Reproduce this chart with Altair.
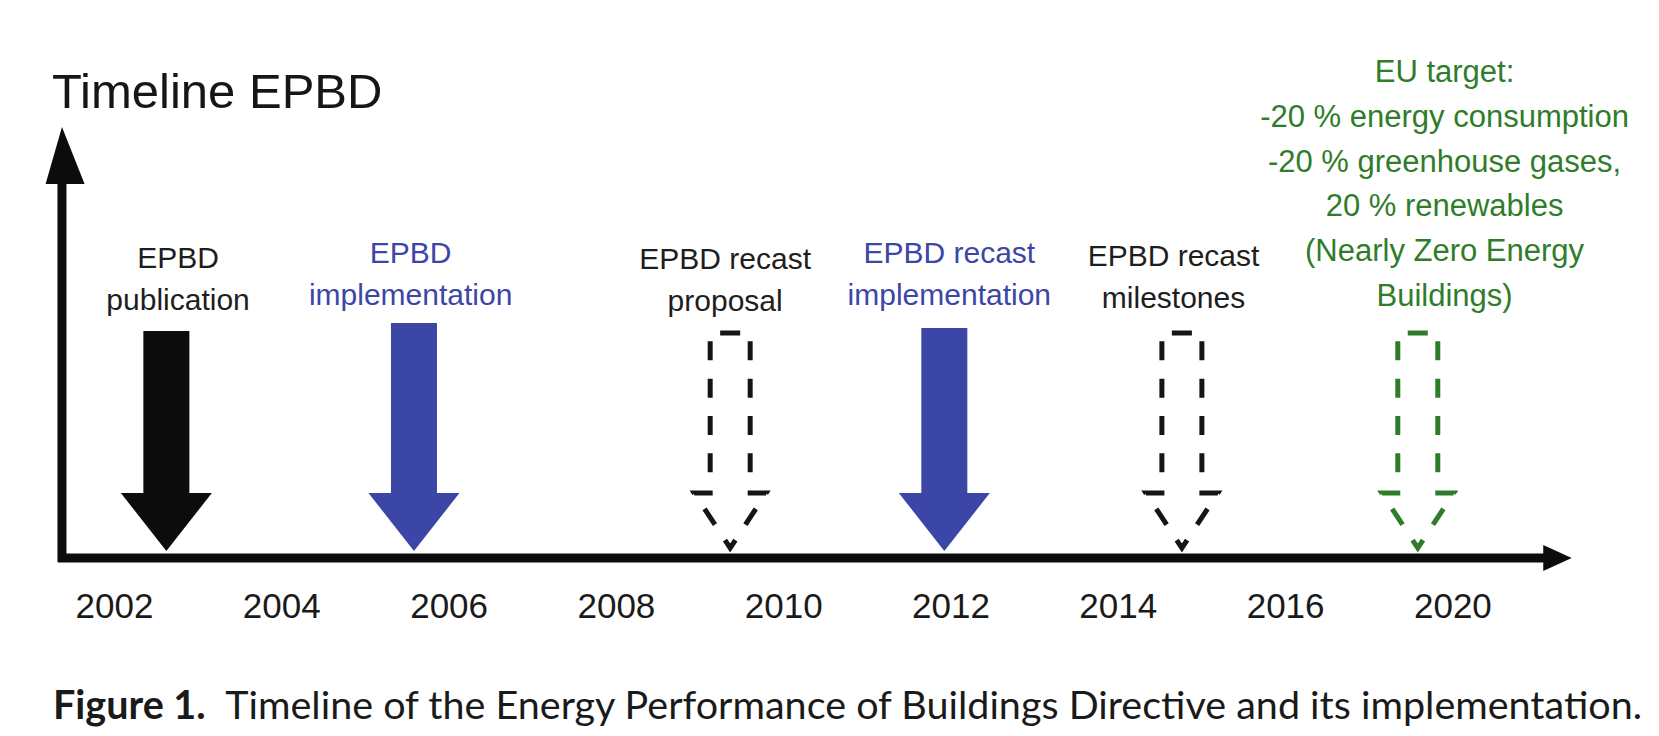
import math
import altair as alt
import pandas as pd

# ---------------- data ----------------
tick_labels = ["2002", "2004", "2006", "2008", "2010", "2012", "2014", "2016", "2020"]
tick_pos = [0, 1, 2, 3, 4, 5, 6, 7, 8]

event_ids = ["publication", "implementation", "recast_proposal",
             "recast_implementation", "recast_milestones", "eu_target"]
event_pos = [0.31, 1.79, 3.68, 4.96, 6.38, 7.79]      # timeline position (tick-index units)
event_start = [227, 235, 225, 230, 225, 225]          # arrow start height above the axis
event_kind = ["solid", "solid", "dashed", "solid", "dashed", "dashed"]
event_color = ["#0c0c0c", "#3c46a6", "#151515", "#3c46a6", "#151515", "#2f7d2a"]

label_pos = [0.38, 1.77, 3.65, 4.99, 6.33, 7.95]
label_lines = [
    ["EPBD", "publication"],
    ["EPBD", "implementation"],
    ["EPBD recast", "proposal"],
    ["EPBD recast", "implementation"],
    ["EPBD recast", "milestones"],
    ["EU target:", "-20 % energy consumption", "-20 % greenhouse gases,",
     "20 % renewables", "(Nearly Zero Energy", "Buildings)"],
]
label_color = ["#1e1e1e", "#3c46a6", "#1e1e1e", "#3c46a6", "#1e1e1e", "#2f7d2a"]

title_text = "Timeline EPBD"
caption_bold = "Figure 1."
caption_rest = "Timeline of the Energy Performance of Buildings Directive and its implementation."

# ---------------- layout constants ----------------
W, H = 1643, 720
X_DOMAIN = [-0.6366, 9.184]
Y_DOMAIN = [-170, 550]
XS = alt.Scale(domain=X_DOMAIN, nice=False, zero=False)
YS = alt.Scale(domain=Y_DOMAIN, nice=False, zero=False)
FONT = "Liberation Sans"

HEAD_BASE = 65
SOLID_TIP = 7
DASH_TIP = 10
SOLID_SHAFT = 0.1375
SOLID_HEAD = 0.272
DASH_SHAFT = 0.1195
DASH_HEAD = 0.215
DASH_TOP = 225
label_first = [290, 295, 289, 295, 292, 476]
LH_SMALL = 42
LH_GREEN = 44.8

# dash pattern for the outlined arrows: centred dash on the top edge, even dashes around
px_x = W / (X_DOMAIN[1] - X_DOMAIN[0])
px_y = H / (Y_DOMAIN[1] - Y_DOMAIN[0])
half_top = DASH_SHAFT * px_x
side = (DASH_TOP - HEAD_BASE) * px_y
step = (DASH_HEAD - DASH_SHAFT) * px_x
diag = math.hypot(DASH_HEAD * px_x, (HEAD_BASE - DASH_TIP) * px_y)
path_len = 2 * (half_top + side + step + diag)
DASH_ON = 19
n_dash = 13
gap = (path_len - 20 - n_dash * DASH_ON) / (n_dash + 1)
dash_pattern = [10] + [round(gap, 2), DASH_ON] * n_dash + [round(gap, 2), 10, 0]

# ---------------- derived tables ----------------
shaft_rows, head_rows, outline_rows = [], [], []
for eid, p, top, kind, col in zip(event_ids, event_pos, event_start, event_kind, event_color):
    if kind == "solid":
        shaft_rows.append(dict(id=eid, x=p - SOLID_SHAFT, x2=p + SOLID_SHAFT, y=top, y2=HEAD_BASE, c=col))
        head_rows += [
            dict(id=eid, x=p - SOLID_HEAD, y=HEAD_BASE, y2=HEAD_BASE, c=col),
            dict(id=eid, x=p, y=HEAD_BASE, y2=SOLID_TIP, c=col),
            dict(id=eid, x=p + SOLID_HEAD, y=HEAD_BASE, y2=HEAD_BASE, c=col),
        ]
    else:
        pts = [(p, top), (p + DASH_SHAFT, top), (p + DASH_SHAFT, HEAD_BASE),
               (p + DASH_HEAD, HEAD_BASE), (p, DASH_TIP), (p - DASH_HEAD, HEAD_BASE),
               (p - DASH_SHAFT, HEAD_BASE), (p - DASH_SHAFT, top), (p, top)]
        for i, (xx, yy) in enumerate(pts):
            outline_rows.append(dict(id=eid, o=i, x=xx, y=yy, c=col))

label_rows = []
for eid, p, lines, col, y0 in zip(event_ids, label_pos, label_lines, label_color, label_first):
    lh = LH_GREEN if eid == "eu_target" else LH_SMALL
    size = 31 if eid == "eu_target" else 30
    for i, t in enumerate(lines):
        label_rows.append(dict(id=eid, x=p, y=y0 - i * lh, t=t, c=col, s=size))

ticks_df = pd.DataFrame(dict(x=tick_pos, t=tick_labels))

# ---------------- layers ----------------
shafts = alt.Chart(pd.DataFrame(shaft_rows)).mark_rect().encode(
    x=alt.X("x:Q", scale=XS, axis=None), x2="x2:Q",
    y=alt.Y("y:Q", scale=YS, axis=None), y2="y2:Q",
    color=alt.Color("c:N", scale=None),
)
heads = alt.Chart(pd.DataFrame(head_rows)).mark_area(orient="vertical").encode(
    x=alt.X("x:Q", scale=XS, axis=None),
    y=alt.Y("y:Q", scale=YS, axis=None), y2="y2:Q",
    detail="id:N",
    color=alt.Color("c:N", scale=None),
)
outlines = alt.Chart(pd.DataFrame(outline_rows)).mark_line(
    strokeWidth=5, strokeDash=dash_pattern, strokeCap="butt"
).encode(
    x=alt.X("x:Q", scale=XS, axis=None),
    y=alt.Y("y:Q", scale=YS, axis=None),
    order="o:Q",
    detail="id:N",
    color=alt.Color("c:N", scale=None),
)

haxis = alt.Chart(pd.DataFrame(dict(x=[-0.338], x2=[8.56], y=[0]))).mark_rule(
    strokeWidth=9, color="#0c0c0c").encode(
    x=alt.X("x:Q", scale=XS, axis=None), x2="x2:Q",
    y=alt.Y("y:Q", scale=YS, axis=None),
)
haxis_head = alt.Chart(pd.DataFrame(dict(x=[8.54, 8.71], y=[13, 0], y2=[-13, 0]))).mark_area(
    orient="vertical", color="#0c0c0c").encode(
    x=alt.X("x:Q", scale=XS, axis=None),
    y=alt.Y("y:Q", scale=YS, axis=None), y2="y2:Q",
)
vaxis = alt.Chart(pd.DataFrame(dict(x=[-0.314], y=[-4], y2=[380]))).mark_rule(
    strokeWidth=9, color="#0c0c0c").encode(
    x=alt.X("x:Q", scale=XS, axis=None),
    y=alt.Y("y:Q", scale=YS, axis=None), y2="y2:Q",
)
vaxis_head = alt.Chart(pd.DataFrame(dict(y=[374, 431], x=[-0.4118, -0.314], x2=[-0.1787, -0.314]))).mark_area(
    orient="horizontal", color="#0c0c0c").encode(
    y=alt.Y("y:Q", scale=YS, axis=None),
    x=alt.X("x:Q", scale=XS, axis=None), x2="x2:Q",
)

years = alt.Chart(ticks_df).mark_text(
    font=FONT, fontSize=35, color="#1a1a1a", align="center", baseline="alphabetic").encode(
    x=alt.X("x:Q", scale=XS, axis=None),
    y=alt.value(610),
    text="t:N",
)

labels = alt.Chart(pd.DataFrame(label_rows)).mark_text(
    font=FONT, align="center", baseline="alphabetic").encode(
    x=alt.X("x:Q", scale=XS, axis=None),
    y=alt.Y("y:Q", scale=YS, axis=None),
    text="t:N",
    color=alt.Color("c:N", scale=None),
    size=alt.Size("s:Q", scale=None),
)

title = alt.Chart(pd.DataFrame(dict(t=[title_text]))).mark_text(
    font=FONT, fontSize=49, color="#161616", align="left", baseline="alphabetic").encode(
    x=alt.value(44), y=alt.value(100), text="t:N")

cap_b = alt.Chart(pd.DataFrame(dict(t=[caption_bold]))).mark_text(
    font="Lato", fontSize=39.5, fontWeight="bold", color="#1a1a1a", align="left",
    baseline="alphabetic").encode(x=alt.value(45), y=alt.value(711), text="t:N")
cap_r = alt.Chart(pd.DataFrame(dict(t=[caption_rest]))).mark_text(
    font="Lato", fontSize=39.5, color="#1a1a1a", align="right",
    baseline="alphabetic").encode(x=alt.value(1634), y=alt.value(711), text="t:N")

chart = alt.layer(
    shafts, heads, outlines, haxis, haxis_head, vaxis, vaxis_head,
    years, labels, title, cap_b, cap_r,
).properties(
    width=W, height=H, padding=0,
    autosize=alt.AutoSizeParams(type="none"),
    background="white",
).configure_view(stroke=None)

chart.save("out.html", embed_options={"renderer": "svg", "actions": False})
